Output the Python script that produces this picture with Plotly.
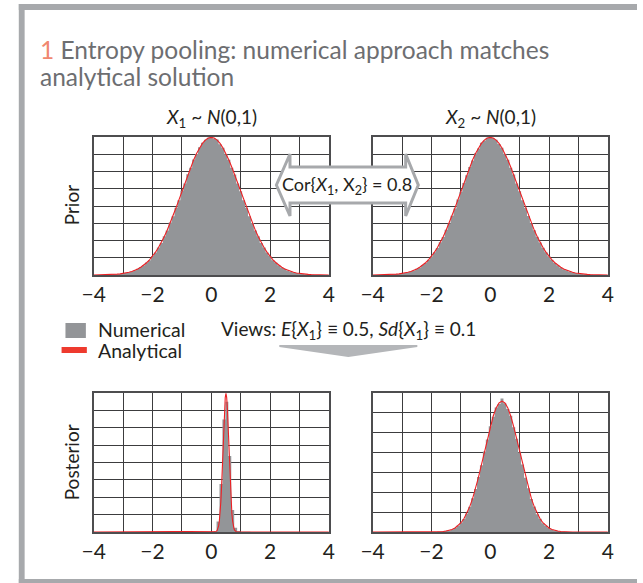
import numpy as np
import plotly.graph_objects as go

W, H = 643, 583
FONT = "Lato"


def px(x):
    return x / W


def py(y):
    return 1 - y / H


# ---------------- data ----------------
major_ticks = [-4, -2, 0, 2, 4]
major_text = ["\u22124", "\u22122", "0", "2", "4"]
minor_ticks = [-3, -1, 1, 3]

hist_x = np.round(np.arange(-3.5, 3.51, 0.1), 1)
prior1_hist = [0.001, 0.001, 0.002, 0.002, 0.003, 0.005, 0.006, 0.008, 0.010, 0.014,
               0.018, 0.023, 0.028, 0.036, 0.043, 0.055, 0.065, 0.080, 0.093, 0.112,
               0.129, 0.152, 0.170, 0.195, 0.217, 0.244, 0.265, 0.292, 0.311, 0.335,
               0.351, 0.370, 0.383, 0.392, 0.398, 0.400, 0.396, 0.393, 0.379, 0.369,
               0.350, 0.334, 0.311, 0.291, 0.265, 0.243, 0.217, 0.195, 0.170, 0.151,
               0.129, 0.112, 0.093, 0.080, 0.065, 0.055, 0.043, 0.036, 0.028, 0.022,
               0.018, 0.013, 0.010, 0.008, 0.006, 0.004, 0.003, 0.002, 0.002, 0.001,
               0.001]
prior2_hist = [0.001, 0.001, 0.002, 0.003, 0.003, 0.004, 0.006, 0.008, 0.011, 0.013,
               0.018, 0.022, 0.029, 0.035, 0.044, 0.054, 0.066, 0.078, 0.095, 0.110,
               0.131, 0.149, 0.172, 0.193, 0.219, 0.241, 0.267, 0.289, 0.313, 0.332,
               0.353, 0.367, 0.383, 0.390, 0.398, 0.399, 0.397, 0.392, 0.380, 0.369,
               0.351, 0.334, 0.311, 0.291, 0.265, 0.243, 0.217, 0.195, 0.171, 0.150,
               0.130, 0.111, 0.094, 0.079, 0.066, 0.054, 0.044, 0.035, 0.028, 0.022,
               0.017, 0.014, 0.010, 0.008, 0.006, 0.004, 0.003, 0.002, 0.002, 0.001,
               0.001]

curve_x = np.round(np.arange(-4.0, 4.01, 0.1), 1)
prior_curve = [0.0001, 0.0002, 0.0003, 0.0004, 0.0006, 0.0009, 0.0012, 0.0017, 0.0024, 0.0033,
               0.0044, 0.0060, 0.0079, 0.0104, 0.0136, 0.0175, 0.0224, 0.0283, 0.0355, 0.0440,
               0.0540, 0.0656, 0.0790, 0.0940, 0.1109, 0.1295, 0.1497, 0.1714, 0.1942, 0.2179,
               0.2420, 0.2661, 0.2897, 0.3123, 0.3332, 0.3521, 0.3683, 0.3814, 0.3910, 0.3970,
               0.3989,
               0.3970, 0.3910, 0.3814, 0.3683, 0.3521, 0.3332, 0.3123, 0.2897, 0.2661, 0.2420,
               0.2179, 0.1942, 0.1714, 0.1497, 0.1295, 0.1109, 0.0940, 0.0790, 0.0656, 0.0540,
               0.0440, 0.0355, 0.0283, 0.0224, 0.0175, 0.0136, 0.0104, 0.0079, 0.0060, 0.0044,
               0.0033, 0.0024, 0.0017, 0.0012, 0.0009, 0.0006, 0.0004, 0.0003, 0.0002, 0.0001]

post1_hist_x = [-0.37, -0.27, -0.17, -0.07, 0.03, 0.13, 0.23, 0.33, 0.43, 0.53, 0.63,
                0.73, 0.83, 0.93, 1.03, 1.13, 1.23, 1.33]
post1_hist = [0.01, 0.01, 0.01, 0.01, 0.01, 0.02, 0.30, 1.38, 3.24, 3.75, 2.19,
              0.63, 0.12, 0.03, 0.01, 0.01, 0.01, 0.01]

post1_curve_x = [-4.0, 0.1, 0.15, 0.175, 0.2, 0.225, 0.25, 0.275, 0.3, 0.325, 0.35, 0.375,
                 0.4, 0.425, 0.45, 0.475, 0.5, 0.525, 0.55, 0.575, 0.6, 0.625, 0.65,
                 0.675, 0.7, 0.725, 0.75, 0.775, 0.8, 0.825, 0.85, 0.9, 4.0]
post1_curve = [0.0, 0.0013, 0.0087, 0.0203, 0.0443, 0.0909, 0.1753, 0.3174, 0.5399, 0.8628,
               1.2952, 1.8265, 2.4197, 3.0114, 3.5207, 3.8667, 3.9894, 3.8667, 3.5207,
               3.0114, 2.4197, 1.8265, 1.2952, 0.8628, 0.5399, 0.3174, 0.1753, 0.0909,
               0.0443, 0.0203, 0.0087, 0.0013, 0.0]

post2_hist_x = np.round(np.arange(-1.8, 2.61, 0.1), 1)
post2_hist = [0.002, 0.003, 0.004, 0.006, 0.008, 0.013, 0.020, 0.031, 0.046, 0.065,
              0.093, 0.127, 0.170, 0.216, 0.277, 0.336, 0.405, 0.466, 0.532, 0.580,
              0.627, 0.645, 0.672, 0.648, 0.620, 0.585, 0.528, 0.470, 0.400, 0.340,
              0.273, 0.220, 0.166, 0.128, 0.090, 0.067, 0.044, 0.032, 0.020, 0.013,
              0.008, 0.005, 0.003, 0.002, 0.001]

post2_curve_x = [-4.0] + list(np.round(np.arange(-2.0, 2.81, 0.1), 1)) + [4.0]
post2_curve = [0.0,
               0.0003, 0.0005, 0.0009, 0.0016, 0.0028, 0.0048, 0.0079, 0.0128, 0.0200, 0.0306,
               0.0454, 0.0657, 0.0924, 0.1264, 0.1684, 0.2182, 0.2751, 0.3377, 0.4032, 0.4685,
               0.5298, 0.5828, 0.6240, 0.6500, 0.6590, 0.6500, 0.6240, 0.5828, 0.5298, 0.4685,
               0.4032, 0.3377, 0.2751, 0.2182, 0.1684, 0.1264, 0.0924, 0.0657, 0.0454, 0.0306,
               0.0200, 0.0128, 0.0079, 0.0048, 0.0028, 0.0016, 0.0009, 0.0005, 0.0003,
               0.0]

panels = [
    dict(hx=hist_x, hy=prior1_hist, cx=curve_x, cy=prior_curve, yr=[0, 0.4], dt=0.05),
    dict(hx=hist_x, hy=prior2_hist, cx=curve_x, cy=prior_curve, yr=[0, 0.4], dt=0.05),
    dict(hx=post1_hist_x, hy=post1_hist, cx=post1_curve_x, cy=post1_curve, yr=[0, 4], dt=0.5),
    dict(hx=post2_hist_x, hy=post2_hist, cx=post2_curve_x, cy=post2_curve, yr=[0, 0.7], dt=0.1),
]

# ---------------- styling ----------------
BAR = "#939598"
RED = "#ed2024"
GRID = "#3c3c3e"
FRAME = "#a7a9ac"
TXT = "#231f20"

# plot boxes in pixels: (left, right, top, bottom)
boxes = [(84, 326, 137, 275), (371, 613, 137, 275),
         (84, 326, 393, 532), (371, 613, 393, 532)]

fig = go.Figure()
layout = dict(width=W, height=H, margin=dict(l=0, r=0, t=0, b=0),
              paper_bgcolor="white", plot_bgcolor="white", showlegend=False,
              font=dict(family=FONT, color=TXT, size=19))

for i, (p, b) in enumerate(zip(panels, boxes)):
    n = "" if i == 0 else str(i + 1)
    xa, ya = "x" + n, "y" + n
    fig.add_trace(go.Scatter(x=p["hx"], y=p["hy"], mode="lines", line=dict(width=0, shape="hvh"),
                             fill="tozeroy", fillcolor=BAR, xaxis=xa, yaxis=ya, hoverinfo="skip"))
    fig.add_trace(go.Scatter(x=p["cx"], y=p["cy"], mode="lines", line=dict(width=1.1, color=RED),
                             xaxis=xa, yaxis=ya, hoverinfo="skip"))
    l, r, t, btm = b
    layout["xaxis" + n] = dict(domain=[px(l), px(r)], anchor=ya, range=[-4, 4],
                               tickmode="array", tickvals=major_ticks, ticktext=major_text,
                               showgrid=True, gridcolor=GRID, gridwidth=1,
                               minor=dict(tickmode="array", tickvals=minor_ticks, showgrid=True,
                                          gridcolor=GRID, gridwidth=1, ticks=""),
                               showline=True, mirror=True, linecolor="#4d4d4f", linewidth=1.5,
                               zeroline=False, ticks="", layer="below traces",
                               tickfont=dict(size=21, color=TXT, family=FONT), fixedrange=True)
    layout["yaxis" + n] = dict(domain=[py(btm), py(t)], anchor=xa, range=p["yr"],
                               tickmode="linear", tick0=0, dtick=p["dt"],
                               showgrid=True, gridcolor=GRID, gridwidth=1,
                               showline=True, mirror=True, linecolor="#4d4d4f", linewidth=1.5,
                               zeroline=False, ticks="", showticklabels=False,
                               layer="below traces", fixedrange=True)

fig.update_layout(**layout)


def pth(points):
    s = "M " + " L ".join(f"{px(a):.5f},{py(b):.5f}" for a, b in points) + " Z"
    return s


shapes = [
    # frame
    dict(type="rect", xref="paper", yref="paper", x0=px(7), x1=px(13), y0=py(583), y1=py(4),
         fillcolor=FRAME, line=dict(width=0)),
    dict(type="rect", xref="paper", yref="paper", x0=px(7), x1=1, y0=py(10), y1=py(4),
         fillcolor=FRAME, line=dict(width=0)),
    dict(type="rect", xref="paper", yref="paper", x0=px(7), x1=1, y0=py(583), y1=py(579),
         fillcolor=FRAME, line=dict(width=0)),
    # double arrow (correlation)
    dict(type="path", xref="paper", yref="paper", layer="above",
         path=pth([(272, 185), (286, 154), (286, 167), (405, 167), (405, 154), (418, 185),
                   (405, 216), (405, 203), (286, 203), (286, 216)]),
         fillcolor="white", line=dict(color=FRAME, width=3)),
    # views chevron
    dict(type="path", xref="paper", yref="paper",
         path=pth([(275, 345), (417, 345), (417, 347), (346, 357), (275, 347)]),
         fillcolor="#b4b6b9", line=dict(width=0)),
    # legend swatches
    dict(type="rect", xref="paper", yref="paper", x0=px(55), x1=px(76), y0=py(338), y1=py(323),
         fillcolor=BAR, line=dict(width=0)),
    dict(type="rect", xref="paper", yref="paper", x0=px(51), x1=px(77), y0=py(353), y1=py(347),
         fillcolor="#ee3a2e", line=dict(width=0)),
]
fig.update_layout(shapes=shapes)


def ann(text, x, y, size, xanchor="center", color=TXT, angle=0):
    return dict(text=text, x=px(x), y=py(y), xref="paper", yref="paper", xanchor=xanchor,
                yanchor="middle", showarrow=False, textangle=angle,
                font=dict(size=size, color=color, family=FONT))


annotations = [
    ann("<span style='color:#f0876f'>1</span> Entropy pooling: numerical approach matches",
        27, 49, 24.5, xanchor="left", color="#6d6e71"),
    ann("analytical solution", 27, 77, 24.5, xanchor="left", color="#6d6e71"),
    ann("<i>X</i><sub>1</sub> ~ <i>N</i>(0,1)", 205, 118, 19),
    ann("<i>X</i><sub>2</sub> ~ <i>N</i>(0,1)", 492, 118, 19),
    ann("Cor{<i>X</i><sub>1</sub>, X<sub>2</sub>} = 0.8", 345, 185, 18),
    ann("Prior", 61, 205, 19, angle=-90),
    ann("Posterior", 61, 462, 19, angle=-90),
    ann("Numerical", 86, 329, 19.5, xanchor="left"),
    ann("Analytical", 86, 350, 19.5, xanchor="left"),
    ann("Views: <i>E</i>{<i>X</i><sub>1</sub>} \u2261 0.5, <i>Sd</i>{<i>X</i><sub>1</sub>} \u2261 0.1",
        346, 330, 19),
]
fig.update_layout(annotations=annotations)

fig.write_html(
    "out.html", config={"displayModeBar": False},
    post_script=("document.body.style.margin='0px';"
                 "document.body.style.overflow='hidden';"
                 "document.documentElement.style.overflow='hidden';"))
